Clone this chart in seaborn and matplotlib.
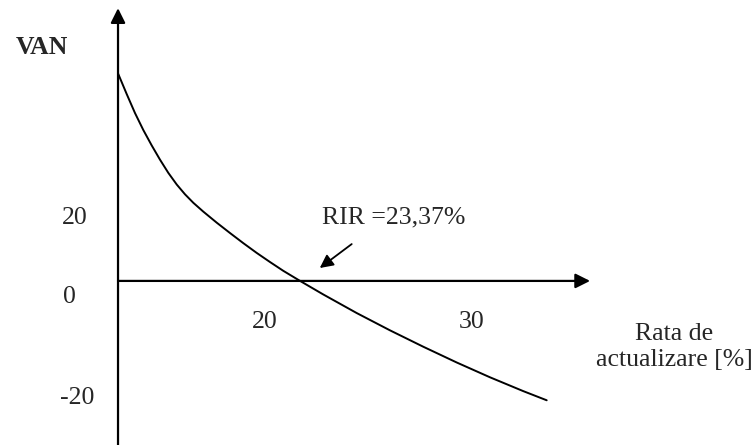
import matplotlib
matplotlib.use("Agg")
import matplotlib.pyplot as plt
import seaborn as sns

# NPV curve (rate in %, VAN)
rates = [0.0, 1.12, 2.18, 3.25, 4.33, 5.39, 6.46, 7.54, 8.60, 9.67, 10.95, 12.67,
         14.38, 16.08, 17.80, 19.51, 21.22, 23.37, 26.35, 30.64, 34.92, 39.19,
         43.48, 47.75, 52.03, 55.03]
van = [65.9, 59.3, 53.3, 47.9, 43.0, 38.5, 34.3, 30.6, 27.5, 24.8, 22.0, 18.5,
       15.2, 12.0, 8.9, 6.0, 3.2, 0.0, -4.3, -10.2, -15.7, -20.9,
       -25.9, -30.6, -35.0, -37.9]

y_tick_labels = ["20", "0", "-20"]
x_tick_labels = ["20", "30"]
rir_label = "RIR =23,37%"
x_title = "Rata de\nactualizare [%]"
y_title = "VAN"

sns.set_theme(style="white")
plt.rcParams["font.family"] = ["Liberation Serif", "DejaVu Serif"]

fig = plt.figure(figsize=(7.56, 4.45), dpi=100)
ax = fig.add_axes([0, 0, 1, 1])
ax.set_xlim(-15.15, 81.9)
ax.set_ylim(-52.1, 89.2)
ax.axis("off")

# axes drawn as arrows
arrow = dict(arrowstyle="-|>", color="black", lw=1.6, mutation_scale=22, shrinkA=0, shrinkB=0)
ax.annotate("", xy=(0, 86.6), xytext=(0, -52.1), arrowprops=arrow)
ax.annotate("", xy=(60.6, 0), xytext=(0, 0), arrowprops=arrow)

sns.lineplot(x=rates, y=van, color="black", linewidth=1.4, ax=ax, sort=False)

fs = 18.5
ax.text(-9.76, 74.0, y_title, fontsize=fs, fontweight="bold", ha="center", va="center")
ax.text(-5.5, 20.0, y_tick_labels[0], fontsize=fs, ha="center", va="center")
ax.text(-6.2, -5.1, y_tick_labels[1], fontsize=fs, ha="center", va="center")
ax.text(-5.3, -37.1, y_tick_labels[2], fontsize=fs, ha="center", va="center")
ax.text(18.9, -13.0, x_tick_labels[0], fontsize=fs, ha="center", va="center")
ax.text(45.4, -13.0, x_tick_labels[1], fontsize=fs, ha="center", va="center")
ax.text(71.4, -21.0, x_title, fontsize=fs, ha="center", va="center", multialignment="center")

ax.annotate("", xy=(25.9, 4.1), xytext=(30.0, 11.7),
            arrowprops=dict(arrowstyle="-|>", color="black", lw=1.3, mutation_scale=20, shrinkA=0, shrinkB=0))
ax.text(26.2, 20.3, rir_label, fontsize=fs, ha="left", va="center")

fig.savefig("out.png", dpi=100, facecolor="white")
